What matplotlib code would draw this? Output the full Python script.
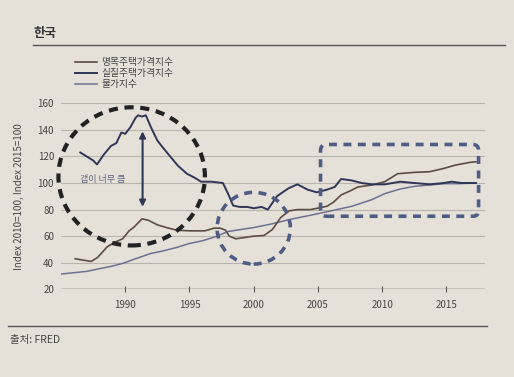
import matplotlib
matplotlib.use('Agg')
import matplotlib.pyplot as plt
from matplotlib.patches import Ellipse, FancyBboxPatch
from matplotlib.lines import Line2D

plt.rcParams['font.family'] = ['Noto Sans CJK KR', 'DejaVu Sans']

# series labels (legend order)
labels = ['명목주택가격지수', '실질주택가격지수', '물가지수']

# nominal house price index (2010=100)
nom_years = [1986.1, 1986.7, 1987.35, 1987.85, 1988.6, 1989.2, 1989.8, 1990.3, 1990.7,
             1991.3, 1991.8, 1992.5, 1993.2, 1994.0, 1995.0, 1996.2, 1996.9, 1997.4,
             1997.8, 1998.1, 1998.6, 1999.3, 2000.0, 2000.8, 2001.45, 2002.1, 2002.75,
             2003.4, 2004.4, 2004.95, 2005.7, 2006.2, 2006.8, 2007.6, 2008.1, 2009.2,
             2010.2, 2011.2, 2012.5, 2013.7, 2014.8, 2015.7, 2016.8, 2017.3]
nom_vals = [43, 42, 41, 44, 52, 55.5, 58, 64, 67,
            73, 72, 68.5, 66.5, 64.5, 64, 64, 66, 66,
            64.5, 60, 58, 59, 60, 60.5, 65, 74, 79,
            80, 80, 81, 82.5, 85.5, 91, 94.5, 97, 98.5,
            101, 107, 108, 108.5, 111, 113.5, 115.5, 116]

# real house price index (2010=100)
real_years = [1986.5, 1987.0, 1987.5, 1987.8, 1988.3, 1988.9, 1989.3, 1989.7, 1990.0,
              1990.4, 1990.8, 1991.0, 1991.3, 1991.6, 1992.0, 1992.5, 1992.9, 1993.5,
              1994.1, 1994.8, 1995.4, 1995.9, 1996.7, 1997.6, 1998.0, 1998.4, 1998.9,
              1999.5, 2000.0, 2000.6, 2001.1, 2001.8, 2002.7, 2003.4, 2004.2, 2004.9,
              2005.7, 2006.3, 2006.8, 2007.6, 2008.4, 2009.2, 2010.2, 2011.4, 2012.5,
              2013.7, 2014.8, 2015.4, 2016.2, 2017.3]
real_vals = [123, 120, 117, 114, 121, 128, 130, 138, 137,
             142, 149, 151, 150, 151, 142, 132, 127, 120,
             113, 107, 104, 101, 101, 100, 92, 83, 82,
             82, 81, 82, 80, 90, 96, 99, 95, 93,
             95, 97, 103, 102, 100, 99, 99, 101, 100,
             99, 100, 101, 100, 100]

# consumer price index (2015=100)
cpi_years = [1985.0, 1986.0, 1987.0, 1988.0, 1989.0, 1989.8, 1990.8, 1992.0, 1993.0,
             1994.0, 1995.0, 1996.0, 1997.0, 1998.0, 1999.0, 2000.0, 2001.3, 2002.9,
             2004.4, 2006.0, 2007.6, 2009.2, 2010.2, 2011.4, 2012.5, 2013.7, 2014.8,
             2016.0, 2017.3]
cpi_vals = [31.5, 32.5, 33.5, 35.5, 37.5, 39.5, 43, 47, 49,
            51.5, 54.5, 56.5, 59.5, 63.5, 65, 66.5, 69, 72.8,
            75.7, 79, 82.4, 87.5, 92, 95.5, 97.5, 98.5, 99.5,
            99.5, 100]

x_ticks = [1990, 1995, 2000, 2005, 2010, 2015]
y_ticks = [20, 40, 60, 80, 100, 120, 140, 160]

bg = '#e6e1d8'
c_nom = '#5b4c44'
c_real = '#2f3656'
c_cpi = '#6c7091'
c_mark = '#4f5d84'

fig = plt.figure(figsize=(5.14, 3.77), dpi=100, facecolor=bg)
ax = fig.add_axes([61 / 514, 1 - 289.3 / 377, 424 / 514, 186 / 377])
ax.set_facecolor(bg)

ax.plot(cpi_years, cpi_vals, color=c_cpi, lw=1.1, label=labels[2], zorder=3)
ax.plot(nom_years, nom_vals, color=c_nom, lw=1.2, label=labels[0], zorder=4)
ax.plot(real_years, real_vals, color=c_real, lw=1.4, label=labels[1], zorder=5)

ax.set_xlim(1985, 2018)
ax.set_ylim(20, 160)
ax.set_xticks(x_ticks)
ax.set_yticks(y_ticks)
for s in ax.spines.values():
    s.set_visible(False)
ax.yaxis.grid(True, color='#b9b5ae', lw=0.8)
ax.set_axisbelow(True)
ax.axhline(20, color='#5a5a5a', lw=1.0, zorder=2)
ax.tick_params(axis='y', length=0, pad=5, labelsize=7, labelcolor='#444444')
ax.tick_params(axis='x', direction='inout', length=4, width=0.8, color='#5a5a5a',
               pad=6, labelsize=7, labelcolor='#444444')
ax.set_ylabel('Index 2010=100, Index 2015=100', fontsize=7, color='#444444', labelpad=10)

# annotations
ax.add_patch(Ellipse((1990.5, 105), 11.4, 104, fill=False, ec='#222222', lw=3,
                     linestyle=(0, (2.2, 1.6)), clip_on=False, zorder=6))
ax.add_patch(Ellipse((2000.0, 66), 5.7, 54, fill=False, ec=c_mark, lw=2.6,
                     linestyle=(0, (2.2, 1.8)), clip_on=False, zorder=6))
ax.add_patch(FancyBboxPatch((2005.2, 75), 12.3, 54,
                            boxstyle='round,pad=0,rounding_size=0.45',
                            mutation_aspect=10, fill=False, ec=c_mark, lw=2.6,
                            linestyle=(0, (2.2, 1.8)), clip_on=False, zorder=6))
ax.annotate('', xy=(1991.35, 80), xytext=(1991.35, 141),
            arrowprops=dict(arrowstyle='<|-|>', color=c_real, lw=1.5, mutation_scale=9))
ax.text(1986.5, 103, '갭이 너무 큼', fontsize=6.5, color='#5d6380', va='center', ha='left')

# legend
handles, labs = ax.get_legend_handles_labels()
order = [1, 2, 0]
ax.legend([handles[i] for i in order], [labs[i] for i in order],
          loc='upper left', bbox_to_anchor=(75 / 514, 1 - 57 / 377),
          bbox_transform=fig.transFigure, frameon=False, fontsize=7,
          handlelength=2.3, handletextpad=0.4, labelspacing=0.12,
          borderpad=0, borderaxespad=0, labelcolor='#444444')

# title, rules, source
fig.text(33 / 514, 1 - 33 / 377, '한국', fontsize=9, fontweight='bold', color='#333333',
         va='center', ha='left')
fig.add_artist(Line2D([33 / 514, 505 / 514], [1 - 45 / 377, 1 - 45 / 377],
                      color='#555555', lw=1.0))
fig.add_artist(Line2D([8 / 514, 487 / 514], [1 - 326 / 377, 1 - 326 / 377],
                      color='#555555', lw=1.0))
fig.text(10 / 514, 1 - 340 / 377, '출처: FRED', fontsize=7.5, color='#444444',
         va='center', ha='left')

fig.savefig('out.png', dpi=100, facecolor=bg)
